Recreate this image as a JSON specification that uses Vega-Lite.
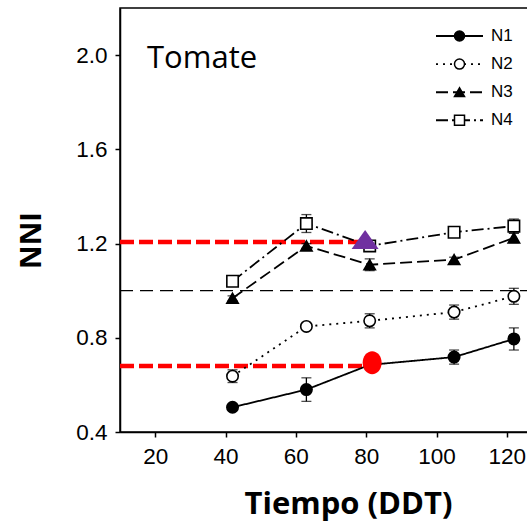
{
  "$schema": "https://vega.github.io/schema/vega-lite/v6.json",
  "width": 409,
  "height": 424,
  "autosize": {"type": "none"},
  "padding": {"left": 120, "top": 8, "right": 0, "bottom": 91},
  "background": "white",
  "config": {
    "view": {"stroke": "black", "strokeWidth": 1.5},
    "axis": {
      "domainColor": "black", "domainWidth": 1.5,
      "tickColor": "black", "tickWidth": 1.5, "tickSize": 5,
      "grid": false,
      "labelFont": "Liberation Sans", "labelFontSize": 22.5, "labelColor": "black",
      "titleFont": "Open Sans", "titleFontWeight": "bold", "titleFontSize": 29, "titleColor": "black"
    },
    "legend": {"padding": 0, "titlePadding": 0}
  },
  "title": {
    "text": "Tomate", "anchor": "start", "frame": "group", "orient": "top",
    "font": "Open Sans", "fontSize": 31, "fontWeight": "normal", "color": "black",
    "baseline": "alphabetic", "offset": 0, "dx": 27, "dy": 91
  },
  "datasets": {
    "series": [
      {"s": "N1", "x": 42, "y": 0.505, "lo": 0.495, "hi": 0.515},
      {"s": "N1", "x": 63, "y": 0.58, "lo": 0.53, "hi": 0.63},
      {"s": "N1", "x": 81, "y": 0.685, "lo": 0.665, "hi": 0.705},
      {"s": "N1", "x": 105, "y": 0.718, "lo": 0.688, "hi": 0.748},
      {"s": "N1", "x": 122, "y": 0.795, "lo": 0.748, "hi": 0.842},
      {"s": "N2", "x": 42, "y": 0.637, "lo": 0.61, "hi": 0.664},
      {"s": "N2", "x": 63, "y": 0.848, "lo": 0.838, "hi": 0.858},
      {"s": "N2", "x": 81, "y": 0.872, "lo": 0.842, "hi": 0.902},
      {"s": "N2", "x": 105, "y": 0.909, "lo": 0.879, "hi": 0.939},
      {"s": "N2", "x": 122, "y": 0.976, "lo": 0.942, "hi": 1.01},
      {"s": "N3", "x": 42, "y": 0.968, "lo": 0.958, "hi": 0.978},
      {"s": "N3", "x": 63, "y": 1.19, "lo": 1.18, "hi": 1.2},
      {"s": "N3", "x": 81, "y": 1.11, "lo": 1.085, "hi": 1.135},
      {"s": "N3", "x": 105, "y": 1.132, "lo": 1.122, "hi": 1.142},
      {"s": "N3", "x": 122, "y": 1.224, "lo": 1.204, "hi": 1.244},
      {"s": "N4", "x": 42, "y": 1.04, "lo": 1.025, "hi": 1.055},
      {"s": "N4", "x": 63, "y": 1.285, "lo": 1.247, "hi": 1.323},
      {"s": "N4", "x": 81, "y": 1.19, "lo": 1.17, "hi": 1.21},
      {"s": "N4", "x": 105, "y": 1.248, "lo": 1.238, "hi": 1.258},
      {"s": "N4", "x": 122, "y": 1.274, "lo": 1.244, "hi": 1.304}
    ],
    "one": [{"x": 10, "x2": 126.3, "y": 1.0}],
    "red": [
      {"x": 10, "x2": 80, "y": 1.207},
      {"x": 10, "x2": 80, "y": 0.68}
    ],
    "tri": [{"x": 79.7, "y": 1.217}],
    "dot": [{"x": 81.7, "y": 0.694}]
  },
  "encoding": {
    "x": {
      "field": "x", "type": "quantitative", "title": "Tiempo (DDT)",
      "scale": {"domain": [10, 126.3], "nice": false, "zero": false},
      "axis": {
        "values": [20, 40, 60, 80, 100, 120], "labelPadding": 8,
        "titleX": 228, "titleY": 81, "titleBaseline": "alphabetic", "titleAlign": "center", "titleFontSize": 31
      }
    },
    "y": {
      "field": "y", "type": "quantitative", "title": "NNI",
      "scale": {"domain": [0.4, 2.2], "nice": false, "zero": false},
      "axis": {
        "values": [0.4, 0.8, 1.2, 1.6, 2.0], "format": ".1f", "labelPadding": 8,
        "titleX": -89, "titleY": 232, "titleAngle": -90, "titleAlign": "center", "titleBaseline": "middle"
      }
    }
  },
  "layer": [
    {
      "data": {"name": "one"},
      "mark": {"type": "rule", "color": "black", "strokeWidth": 1.3, "strokeDash": [13, 7]},
      "encoding": {"x2": {"field": "x2"}}
    },
    {
      "data": {"name": "red"},
      "mark": {"type": "rule", "color": "#ff0000", "strokeWidth": 4.5, "strokeDash": [14, 5]},
      "encoding": {"x2": {"field": "x2"}}
    },
    {
      "data": {"name": "series"},
      "mark": {"type": "line", "color": "black", "strokeWidth": 1.8},
      "encoding": {
        "strokeDash": {
          "field": "s", "type": "nominal",
          "scale": {"domain": ["N1", "N2", "N3", "N4"], "range": [[1, 0], [2, 5], [12, 5], [12, 4, 2, 4]]},
          "legend": {
            "orient": "none", "legendX": 331, "legendY": 19.5, "title": null,
            "symbolType": "M-4.7,0H4.7", "symbolSize": 100,
            "symbolStrokeColor": "black", "symbolStrokeWidth": 1.9,
            "labelOffset": 23, "labelFontSize": 17, "labelFont": "Liberation Sans", "labelColor": "black",
            "rowPadding": 10.1
          }
        }
      }
    },
    {
      "data": {"name": "series"},
      "mark": {"type": "errorbar", "color": "black", "thickness": 1.3, "ticks": {"size": 10}},
      "encoding": {
        "y": {"field": "lo", "type": "quantitative", "title": "NNI"},
        "y2": {"field": "hi"}
      }
    },
    {
      "data": {"name": "series"},
      "mark": {"type": "point", "filled": true, "strokeWidth": 1.6, "size": 130, "opacity": 1},
      "encoding": {
        "shape": {
          "field": "s", "type": "nominal",
          "scale": {"range": ["circle", "circle", "triangle-up", "square"]},
          "legend": {
            "orient": "none", "legendX": 331, "legendY": 19.5, "title": null,
            "symbolSize": 100, "symbolStrokeWidth": 1.5,
            "labelOffset": 23, "labelFontSize": 17, "labelFont": "Liberation Sans", "labelColor": "transparent",
            "labelExpr": "''",
            "rowPadding": 10.1
          }
        },
        "fill": {
          "field": "s", "type": "nominal",
          "scale": {"range": ["black", "white", "black", "white"]},
          "legend": {
            "orient": "none", "legendX": 331, "legendY": 19.5, "title": null,
            "symbolSize": 100, "symbolStrokeWidth": 1.5,
            "labelOffset": 23, "labelFontSize": 17, "labelFont": "Liberation Sans", "labelColor": "transparent",
            "labelExpr": "''",
            "rowPadding": 10.1
          }
        },
        "stroke": {
          "field": "s", "type": "nominal",
          "scale": {"range": ["black", "black", "black", "black"]},
          "legend": {
            "orient": "none", "legendX": 331, "legendY": 19.5, "title": null,
            "symbolSize": 100, "symbolStrokeWidth": 1.5,
            "labelOffset": 23, "labelFontSize": 17, "labelFont": "Liberation Sans", "labelColor": "transparent",
            "labelExpr": "''",
            "rowPadding": 10.1
          }
        }
      }
    },
    {
      "data": {"name": "tri"},
      "mark": {"type": "point", "filled": true, "color": "#7030a0", "opacity": 1, "shape": "M0,-0.7L1,0.7L-1,0.7Z", "size": 729}
    },
    {
      "data": {"name": "dot"},
      "mark": {"type": "point", "filled": true, "color": "#ff0000", "opacity": 1, "shape": "M0,-1A0.826,1 0 1,1 0,1A0.826,1 0 1,1 0,-1Z", "size": 529}
    }
  ]
}
